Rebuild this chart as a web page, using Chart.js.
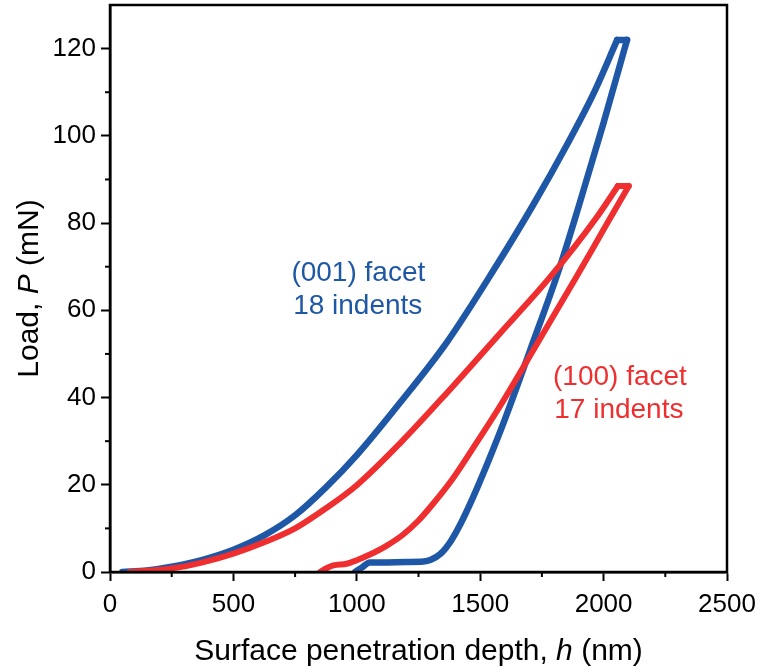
<!DOCTYPE html>
<html>
<head>
<meta charset="utf-8">
<script src="https://cdn.jsdelivr.net/npm/chart.js@4"></script>
<style>
  html, body { margin: 0; padding: 0; background: #fff; }
  #wrap { width: 761px; height: 672px; }
</style>
</head>
<body>
<div id="wrap"><canvas id="myChart" width="761" height="672"></canvas></div>
<script>
const ctx = document.getElementById("myChart").getContext("2d");

// Axis ticks (major ticks get labels, minor ticks sit half way between)
const xTicks = [0, 500, 1000, 1500, 2000, 2500];
const yTicks = [0, 20, 40, 60, 80, 100, 120];
const xMinorStep = 250;
const yMinorStep = 10;

// (001) facet: depth h (nm) and load P (mN)
const blueLoadH = [50, 150, 250, 375, 500, 625, 750, 875, 1000, 1175, 1364, 1552, 1715, 1850, 1960, 2055];
const blueLoadP = [0, 0.35, 1.2, 2.8, 5.1, 8.4, 13.0, 19.4, 26.8, 38.8, 52.6, 69.0, 84.2, 97.8, 109.8, 122];
const blueHoldH = [2055, 2095];
const blueHoldP = [122, 122];
const blueUnloadH = [2095, 2000, 1900, 1823, 1700, 1600, 1530, 1470, 1420, 1380, 1340, 1300, 1270, 1200, 1100, 1053, 1020, 993];
const blueUnloadP = [122, 103, 84, 70, 50.5, 35, 25, 17, 11, 7, 4.2, 2.8, 2.4, 2.3, 2.2, 2.2, 1.0, 0];

// (100) facet
const redLoadH = [80, 250, 375, 500, 625, 750, 875, 1000, 1175, 1364, 1580, 1783, 1973, 2058];
const redLoadP = [0, 0.8, 2.2, 4.2, 6.8, 10.0, 14.6, 19.9, 29.5, 41, 54.7, 67.6, 81.4, 88.5];
const redHoldH = [2058, 2102];
const redHoldP = [88.5, 88.5];
const redUnloadH = [2102, 2000, 1883, 1727, 1580, 1471, 1390, 1310, 1250, 1188, 1120, 1053, 1000, 959, 905, 875, 851];
const redUnloadP = [88.5, 78.5, 67, 52, 38, 28.4, 21.5, 15.7, 11.8, 8.6, 6.0, 4.0, 2.7, 1.9, 1.5, 0.8, 0];

const blue = "#1f57a7";
const red = "#ef2f2f";
const font = "'Liberation Sans', Arial, sans-serif";

const toPoints = (hs, ps) => hs.map((h, i) => ({ x: h, y: ps[i] }));

const curve = (hs, ps, color, width) => ({
  data: toPoints(hs, ps),
  showLine: true,
  borderColor: color,
  borderWidth: width,
  pointRadius: 0,
  cubicInterpolationMode: "monotone",
  borderJoinStyle: "round",
  borderCapStyle: "round"
});

// Draw text made of normal / italic pieces, centred on (x, y)
const drawRich = (c, parts, x, y, size, rotate) => {
  c.save();
  c.translate(x, y);
  if (rotate) c.rotate(-Math.PI / 2);
  c.textBaseline = "middle";
  c.textAlign = "left";
  c.fillStyle = "#000";
  let total = 0;
  parts.forEach(p => {
    c.font = (p[1] ? "italic " : "") + size + "px " + font;
    total += c.measureText(p[0]).width;
  });
  let pos = -total / 2;
  parts.forEach(p => {
    c.font = (p[1] ? "italic " : "") + size + "px " + font;
    c.fillText(p[0], pos, 0);
    pos += c.measureText(p[0]).width;
  });
  c.restore();
};

const noPad = s => { s.paddingTop = 0; s.paddingBottom = 0; s.paddingLeft = 0; s.paddingRight = 0; };

const extras = {
  id: "extras",
  afterDraw(chart) {
    const c = chart.ctx;
    const a = chart.chartArea;
    const xs = chart.scales.x;
    const ys = chart.scales.y;
    c.save();
    // frame on all four sides
    c.strokeStyle = "#000";
    c.lineWidth = 2.5;
    c.strokeRect(a.left, a.top, a.right - a.left, a.bottom - a.top);
    // minor ticks (shorter, outward)
    c.lineWidth = 2;
    for (let v = xMinorStep; v < xs.max; v += 2 * xMinorStep) {
      const px = xs.getPixelForValue(v);
      c.beginPath(); c.moveTo(px, a.bottom); c.lineTo(px, a.bottom + 5); c.stroke();
    }
    for (let v = yMinorStep; v < ys.max; v += 2 * yMinorStep) {
      const py = ys.getPixelForValue(v);
      c.beginPath(); c.moveTo(a.left, py); c.lineTo(a.left - 5, py); c.stroke();
    }
    // facet notes
    c.font = "28px " + font;
    c.textAlign = "left";
    c.textBaseline = "middle";
    c.fillStyle = blue;
    c.fillText("(001) facet", xs.getPixelForValue(735), ys.getPixelForValue(68.6));
    c.fillText("18 indents", xs.getPixelForValue(742), ys.getPixelForValue(61.0));
    c.fillStyle = red;
    c.fillText("(100) facet", xs.getPixelForValue(1795), ys.getPixelForValue(44.6));
    c.fillText("17 indents", xs.getPixelForValue(1800), ys.getPixelForValue(37.0));
    c.restore();
    // axis titles
    drawRich(c, [["Surface penetration depth, ", false], ["h", true], [" (nm)", false]],
      (a.left + a.right) / 2, 652, 30, false);
    drawRich(c, [["Load, ", false], ["P", true], [" (mN)", false]],
      30, (a.top + a.bottom) / 2, 30, true);
  }
};

const myChart = new Chart(ctx, {
  type: "scatter",
  data: {
    datasets: [
      curve(redLoadH, redLoadP, red, 6),
      curve(redHoldH, redHoldP, red, 6),
      curve(redUnloadH, redUnloadP, red, 6),
      curve(blueLoadH, blueLoadP, blue, 6.5),
      curve(blueHoldH, blueHoldP, blue, 6.5),
      curve(blueUnloadH, blueUnloadP, blue, 6.5)
    ]
  },
  options: {
    responsive: false,
    animation: false,
    layout: { autoPadding: false, padding: { top: 5, right: 34, left: 0, bottom: 0 } },
    plugins: { legend: { display: false }, tooltip: { enabled: false } },
    scales: {
      x: {
        min: xTicks[0],
        max: xTicks[xTicks.length - 1],
        afterFit: s => { s.height = 100; noPad(s); },
        afterBuildTicks: s => { s.ticks = xTicks.map(v => ({ value: v })); },
        border: { color: "#000", width: 2.5 },
        grid: { drawOnChartArea: false, tickLength: 9, tickWidth: 2, tickColor: "#000" },
        ticks: {
          color: "#000",
          padding: 8,
          maxRotation: 0,
          callback: v => String(v),
          font: { family: font, size: 26 }
        }
      },
      y: {
        min: 0,
        max: 130,
        afterFit: s => { s.width = 110; noPad(s); },
        afterBuildTicks: s => { s.ticks = yTicks.map(v => ({ value: v })); },
        border: { color: "#000", width: 2.5 },
        grid: { drawOnChartArea: false, tickLength: 9, tickWidth: 2, tickColor: "#000" },
        ticks: {
          color: "#000",
          padding: 5,
          callback: v => String(v),
          font: { family: font, size: 26 }
        }
      }
    }
  },
  plugins: [extras]
});
</script>
</body>
</html>
